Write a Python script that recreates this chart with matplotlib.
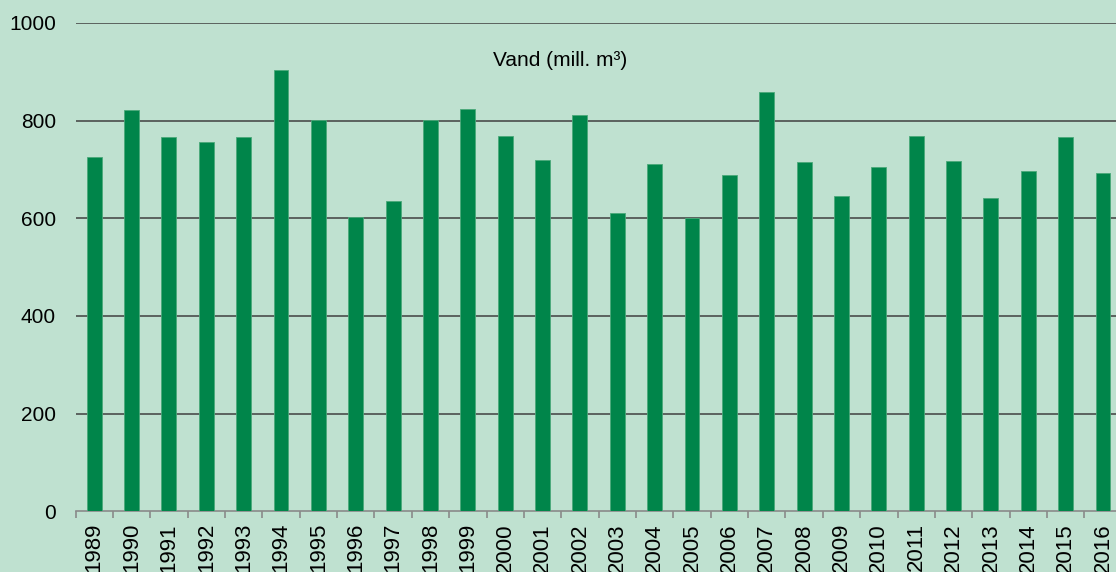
import matplotlib.pyplot as plt
import numpy as np

years = [str(y) for y in range(1989, 2017)]
vand = [726, 821, 766, 756, 766, 903, 802, 603, 635, 802,
        824, 768, 719, 811, 610, 711, 601, 688, 859, 715,
        645, 706, 769, 718, 641, 697, 767, 693]

bg = '#bfe1d0'
green = '#00854a'

plt.rcParams['font.family'] = ['Liberation Sans', 'DejaVu Sans']

fig = plt.figure(figsize=(11.16, 5.72), dpi=100, facecolor=bg)
ax = fig.add_axes([75.5 / 1116, 60.7 / 572, 1046.2 / 1116, 488.3 / 572])
ax.set_facecolor(bg)

x = np.arange(len(years))
ax.bar(x, vand, width=0.4, color=green, edgecolor='#4aa97a', linewidth=0.6, zorder=3)

ax.set_ylim(0, 1000)
ax.set_xlim(-0.5, len(years) - 0.5)
ax.set_yticks([0, 200, 400, 600, 800, 1000])
for v in [200, 400, 600, 800, 1000]:
    ax.axhline(v, color='#404040', linewidth=1.1, zorder=1)

ax.set_xticks(x)
ax.set_xticklabels(years, rotation=90, fontsize=16)
ax.set_xticks(np.arange(-0.5, len(years)), minor=True)
ax.tick_params(axis='x', which='major', length=0, pad=8.5)
ax.tick_params(axis='x', which='minor', length=5, width=1.2, color='#8a8a8a')
ax.tick_params(axis='y', length=0, pad=14, labelsize=15)

for s in ['top', 'right', 'left']:
    ax.spines[s].set_visible(False)
ax.spines['bottom'].set_color('#8a8a8a')
ax.spines['bottom'].set_linewidth(1.2)

fig.text(0.502, 1 - 61 / 572, 'Vand (mill. m³)', ha='center', va='center', fontsize=15)

fig.savefig('out.png', dpi=100, facecolor=bg)
